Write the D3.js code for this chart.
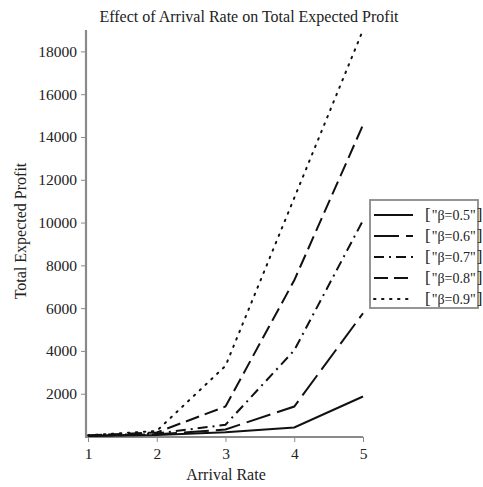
<!DOCTYPE html>
<html>
<head>
<meta charset="utf-8">
<script src="https://cdn.jsdelivr.net/npm/d3@7"></script>
<style>
  html, body { margin: 0; padding: 0; background: #fff; }
  svg { display: block; }
  svg text { font-family: "Liberation Serif", "DejaVu Serif", serif; }
</style>
</head>
<body>
<svg id="chart" width="483" height="487"></svg>
<script>
// Arrival rates on the x axis
const arrivalRates = [1, 2, 3, 4, 5];

// Total expected profit for each β value
const beta05 = [20, 70, 200, 420, 1870];
const beta06 = [30, 100, 330, 1400, 5760];
const beta07 = [40, 140, 550, 4030, 10100];
const beta08 = [50, 190, 1400, 7300, 14560];
const beta09 = [60, 260, 3300, 11150, 19000];

const seriesNames = ['"β=0.5"', '"β=0.6"', '"β=0.7"', '"β=0.8"', '"β=0.9"'];

const xTicks = [1, 2, 3, 4, 5];
const yTicks = [2000, 4000, 6000, 8000, 10000, 12000, 14000, 16000, 18000];

const allSeries = [beta05, beta06, beta07, beta08, beta09];
const dashes = [null, "25,7", "10,5,2,5", "14,6", "1.5,6.5"];

const svg = d3.select("#chart");

const x = d3.scaleLinear().domain([1, 5]).range([88, 363]);
const y = d3.scaleLinear().domain([0, 19000]).range([436.5, 30]);

const axisColor = "#8a8a8a";
const textColor = "#222";

// Title
svg.append("text")
  .attr("x", 249).attr("y", 22)
  .attr("text-anchor", "middle")
  .attr("font-size", 16)
  .attr("fill", textColor)
  .text("Effect of Arrival Rate on Total Expected Profit");

// Y axis: major and minor ticks
const yAxisG = svg.append("g").attr("transform", "translate(86,0)");
yAxisG.call(d3.axisLeft(y).tickValues(d3.range(1000, 19000, 1000)).tickSize(3).tickFormat(""));
yAxisG.call(d3.axisLeft(y).tickValues(yTicks).tickSize(5).tickPadding(4).tickFormat(d3.format("d")));
yAxisG.selectAll(".domain").remove();
yAxisG.selectAll("line").attr("stroke", axisColor).attr("stroke-width", 1);
yAxisG.selectAll("text").attr("font-size", 15.5).attr("fill", textColor);
yAxisG.append("line")
  .attr("x1", 0).attr("x2", 0)
  .attr("y1", y.range()[1]).attr("y2", 437.5)
  .attr("stroke", axisColor).attr("stroke-width", 2.2);

// X axis: major and minor ticks
const xAxisG = svg.append("g").attr("transform", "translate(0,437)");
xAxisG.call(d3.axisBottom(x).tickValues([1.5, 2.5, 3.5, 4.5]).tickSize(3).tickFormat(""));
xAxisG.call(d3.axisBottom(x).tickValues(xTicks).tickSize(5).tickPadding(6).tickFormat(d3.format("d")));
xAxisG.selectAll(".domain").remove();
xAxisG.selectAll("line").attr("stroke", axisColor).attr("stroke-width", 1);
xAxisG.selectAll("text").attr("font-size", 15.5).attr("fill", textColor);
xAxisG.append("line")
  .attr("x1", 85).attr("x2", 363)
  .attr("y1", 0).attr("y2", 0)
  .attr("stroke", axisColor).attr("stroke-width", 2.2);

// Axis titles
svg.append("text")
  .attr("x", 226).attr("y", 480)
  .attr("text-anchor", "middle")
  .attr("font-size", 16)
  .attr("fill", textColor)
  .text("Arrival Rate");

svg.append("text")
  .attr("transform", "translate(26,231) rotate(-90)")
  .attr("text-anchor", "middle")
  .attr("font-size", 16)
  .attr("fill", textColor)
  .text("Total Expected Profit");

// Series lines
const line = d3.line()
  .x((d, i) => x(arrivalRates[i]))
  .y(d => y(d));

allSeries.forEach((vals, k) => {
  svg.append("path")
    .datum(vals)
    .attr("d", line)
    .attr("fill", "none")
    .attr("stroke", "#111")
    .attr("stroke-width", 2)
    .attr("stroke-linecap", k === 4 ? "round" : "butt")
    .attr("stroke-dasharray", dashes[k]);
});

// Legend
const legend = svg.append("g");
legend.append("rect")
  .attr("x", 370).attr("y", 200)
  .attr("width", 108).attr("height", 108)
  .attr("fill", "#fff")
  .attr("stroke", axisColor)
  .attr("stroke-width", 1.8);

seriesNames.forEach((name, k) => {
  const ly = 215 + k * 21;
  legend.append("line")
    .attr("x1", 374).attr("x2", 413)
    .attr("y1", ly).attr("y2", ly)
    .attr("stroke", "#111")
    .attr("stroke-width", 2)
    .attr("stroke-linecap", k === 4 ? "round" : "butt")
    .attr("stroke-dasharray", dashes[k]);
  const t = legend.append("text")
    .attr("x", 425).attr("y", ly + 5)
    .attr("fill", textColor);
  t.append("tspan").attr("font-size", 17).text("[");
  t.append("tspan").attr("font-size", 14).attr("dx", 1).text(name);
  t.append("tspan").attr("font-size", 17).attr("dx", 1).text("]");
});
</script>
</body>
</html>
